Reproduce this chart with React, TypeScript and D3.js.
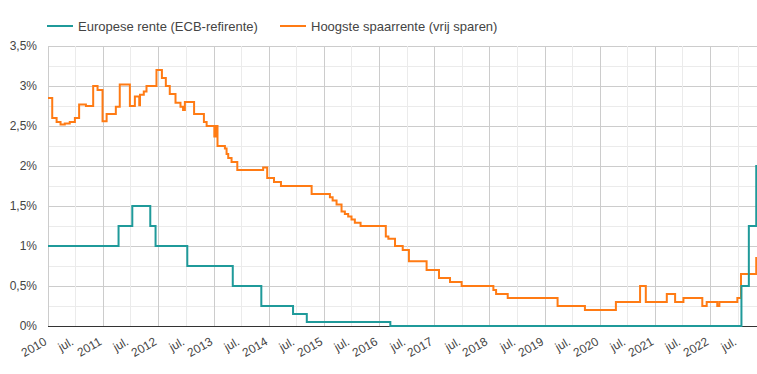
import React, { useEffect, useRef } from 'react';
import * as d3 from 'd3';

// ECB refinancing rate (step changes)
const ecbDates = [
  '2010-01-01', '2011-04-13', '2011-07-13', '2011-11-09', '2011-12-14', '2012-07-11',
  '2013-05-08', '2013-11-13', '2014-06-11', '2014-09-10', '2016-03-16', '2022-07-27',
  '2022-09-14', '2022-11-02', '2022-11-08'
];
const ecbValues = [1.0, 1.25, 1.5, 1.25, 1.0, 0.75, 0.5, 0.25, 0.15, 0.05, 0.0, 0.5, 1.25, 2.0, 2.0];

// Hoogste spaarrente (vrij sparen)
const spaarDates = [
  '2010-01-01', '2010-01-29', '2010-02-27', '2010-03-25', '2010-04-22', '2010-05-25',
  '2010-06-28', '2010-07-26', '2010-09-09', '2010-10-27', '2010-11-25', '2010-12-28',
  '2011-01-24', '2011-03-26', '2011-04-21', '2011-06-27', '2011-07-30', '2011-08-28',
  '2011-09-02', '2011-09-27', '2011-10-15', '2011-12-20', '2012-01-25', '2012-02-20',
  '2012-03-17', '2012-04-24', '2012-05-27', '2012-06-13', '2012-06-25', '2012-08-25',
  '2012-10-29', '2012-11-16', '2013-01-06', '2013-01-17', '2013-01-27', '2013-03-17',
  '2013-03-28', '2013-04-08', '2013-04-30', '2013-06-07', '2013-11-25', '2013-12-22',
  '2014-02-05', '2014-03-23', '2014-10-12', '2015-02-10', '2015-02-28', '2015-03-26',
  '2015-04-28', '2015-05-20', '2015-06-11', '2015-07-03', '2015-07-25', '2015-09-01',
  '2016-02-15', '2016-03-03', '2016-04-16', '2016-06-06', '2016-07-17', '2016-11-11',
  '2017-02-01', '2017-04-15', '2017-07-01', '2018-01-27', '2018-02-14', '2018-05-02',
  '2019-03-28', '2019-09-25', '2020-04-17', '2020-09-24', '2020-11-01', '2021-03-20',
  '2021-05-14', '2021-07-08', '2021-11-10', '2021-12-09', '2022-02-17', '2022-03-03',
  '2022-06-30', '2022-07-24', '2022-11-02', '2022-11-08'
];
const spaarValues = [
  2.85, 2.6, 2.55, 2.52, 2.53, 2.55,
  2.6, 2.77, 2.75, 3.0, 2.95, 2.56,
  2.65, 2.74, 3.02, 2.75, 2.87, 2.76,
  2.89, 2.93, 3.0, 3.2, 3.1, 3.0,
  2.9, 2.79, 2.74, 2.7, 2.8, 2.65,
  2.55, 2.5, 2.37, 2.5, 2.25, 2.22,
  2.15, 2.1, 2.05, 1.95, 1.98, 1.85,
  1.8, 1.75, 1.65, 1.61, 1.57, 1.52,
  1.43, 1.4, 1.37, 1.33, 1.29, 1.25,
  1.12, 1.09, 1.0, 0.95, 0.81, 0.7,
  0.6, 0.55, 0.5, 0.45, 0.4, 0.35,
  0.25, 0.2, 0.3, 0.5, 0.3, 0.4,
  0.3, 0.35, 0.25, 0.3, 0.25, 0.3,
  0.35, 0.65, 0.85, 0.85
];

const seriesNames = ['Europese rente (ECB-refirente)', 'Hoogste spaarrente (vrij sparen)'];
const seriesColors = ['#1f9a9a', '#ff7b14'];
const yTicks = [0, 0.5, 1, 1.5, 2, 2.5, 3, 3.5];

const W = 757;
const H = 374;

export default function App() {
  const ref = useRef<SVGSVGElement>(null);

  useEffect(() => {
    if (!ref.current) return;
    const svg = d3.select(ref.current);
    svg.selectAll('*').remove();

    const parse = d3.timeParse('%Y-%m-%d');
    const x = d3.scaleTime()
      .domain([parse('2010-01-01')!, parse('2022-11-07')!])
      .range([48, 757]);
    const y = d3.scaleLinear().domain([0, 3.5]).range([326, 46]);
    const font = 'Arial, "Liberation Sans", sans-serif';

    // horizontal grid
    d3.range(0, 3.51, 0.25).forEach(v => {
      const major = Math.abs(v * 2 - Math.round(v * 2)) < 1e-6;
      svg.append('line')
        .attr('x1', 48).attr('x2', W)
        .attr('y1', Math.round(y(v)) + 0.5).attr('y2', Math.round(y(v)) + 0.5)
        .attr('stroke', major ? '#cccccc' : '#ebebeb');
    });

    // vertical grid + x labels
    const ticks: { d: Date; label: string; major: boolean }[] = [];
    for (let yr = 2010; yr <= 2022; yr++) {
      ticks.push({ d: new Date(yr, 0, 1), label: String(yr), major: true });
      ticks.push({ d: new Date(yr, 6, 1), label: 'jul.', major: false });
    }
    ticks.forEach(t => {
      const px = Math.round(x(t.d)) + 0.5;
      svg.append('line')
        .attr('x1', px).attr('x2', px)
        .attr('y1', 46).attr('y2', 326)
        .attr('stroke', t.major ? '#cccccc' : '#ebebeb');
      svg.append('text')
        .attr('transform', `translate(${px - 1},${344}) rotate(-30)`)
        .attr('text-anchor', 'end')
        .attr('font-family', font)
        .attr('font-size', 12)
        .attr('fill', '#444')
        .text(t.label);
    });

    // y labels
    yTicks.forEach(v => {
      svg.append('text')
        .attr('x', 37)
        .attr('y', y(v) + 4)
        .attr('text-anchor', 'end')
        .attr('font-family', font)
        .attr('font-size', 12)
        .attr('fill', '#444')
        .text(d3.format('~g')(v).replace('.', ',') + '%');
    });

    // baseline
    svg.append('line')
      .attr('x1', 48).attr('x2', W)
      .attr('y1', 326.5).attr('y2', 326.5)
      .attr('stroke', '#333');

    const line = d3.line<[Date, number]>()
      .x(d => x(d[0]))
      .y(d => y(d[1]))
      .curve(d3.curveStepAfter);

    const series = [
      ecbDates.map((d, i) => [parse(d)!, ecbValues[i]] as [Date, number]),
      spaarDates.map((d, i) => [parse(d)!, spaarValues[i]] as [Date, number])
    ];

    const clip = svg.append('defs').append('clipPath').attr('id', 'plotclip');
    clip.append('rect').attr('x', 46).attr('y', 40).attr('width', W - 46).attr('height', 290);

    [1, 0].forEach(i => {
      svg.append('path')
        .datum(series[i])
        .attr('d', line)
        .attr('clip-path', 'url(#plotclip)')
        .attr('fill', 'none')
        .attr('stroke', seriesColors[i])
        .attr('stroke-width', 2);
    });

    // legend
    const legendX = [47, 280];
    seriesNames.forEach((name, i) => {
      svg.append('line')
        .attr('x1', legendX[i]).attr('x2', legendX[i] + 26)
        .attr('y1', 26).attr('y2', 26)
        .attr('stroke', seriesColors[i])
        .attr('stroke-width', 2);
      svg.append('text')
        .attr('x', legendX[i] + 31)
        .attr('y', 30.5)
        .attr('font-family', font)
        .attr('font-size', 13)
        .attr('fill', '#444')
        .text(name);
    });
  }, []);

  return (
    <div style={{ position: 'absolute', left: 0, top: 0 }}>
      <svg ref={ref} width={W} height={H} style={{ display: 'block' }} />
    </div>
  );
}
